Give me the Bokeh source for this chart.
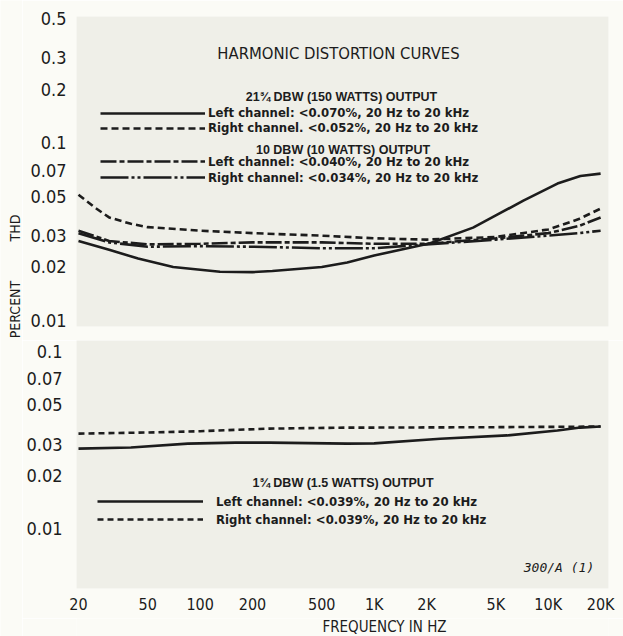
from bokeh.plotting import figure
from bokeh.layouts import column, row
from bokeh.models import FixedTicker, Legend, LegendItem, Label, Range1d
from bokeh.embed import file_html
from bokeh.resources import INLINE
import math

# ---------------- data ----------------
freq_ticks = [20, 50, 100, 200, 500, 1000, 2000, 5000, 10000, 20000]
freq_labels = ["20", "50", "100", "200", "500", "1K", "2K", "5K", "10K", "20K"]

top_ticks = [0.01, 0.02, 0.03, 0.05, 0.07, 0.1, 0.2, 0.3, 0.5]
top_labels = ["0.01", "0.02", "0.03", "0.05", "0.07", "0.1", "0.2", "0.3", "0.5"]
bot_ticks = [0.01, 0.02, 0.03, 0.05, 0.07, 0.1]
bot_labels = ["0.01", "0.02", "0.03", "0.05", "0.07", "0.1"]

# 21 3/4 DBW (150 W)
freq_150L = [20, 30, 44, 70, 130, 200, 260, 500, 700, 1000, 2100, 3700, 5000, 7200, 11300, 15300, 20000]
thd_150L = [0.028, 0.0250, 0.0223, 0.0200, 0.0188, 0.0187, 0.0190, 0.0200, 0.0212, 0.0232,
            0.0272, 0.0333, 0.0390, 0.0472, 0.0589, 0.0650, 0.0670]
freq_150R = [20, 25, 30, 40, 50, 100, 200, 500, 1000, 2000, 5000, 10000, 15000, 20000]
thd_150R = [0.051, 0.043, 0.038, 0.035, 0.0335, 0.032, 0.031, 0.030, 0.029, 0.0285,
            0.0295, 0.0325, 0.0372, 0.0426]

# 10 DBW (10 W)
freq_10 = [20, 30, 50, 100, 200, 500, 1000, 2000, 5000, 10000, 15000, 20000]
thd_10L = [0.032, 0.028, 0.0268, 0.0270, 0.0275, 0.0275, 0.0270, 0.0270, 0.0290, 0.0310, 0.0340, 0.0380]
thd_10R = [0.031, 0.0275, 0.0260, 0.0262, 0.0260, 0.0255, 0.0255, 0.0268, 0.0285, 0.0300, 0.0310, 0.0320]

# 1 3/4 DBW (1.5 W)
freq_1_5L = [20, 40, 85, 160, 250, 700, 1000, 2400, 5800, 11300, 15300, 20000]
thd_1_5L = [0.0283, 0.0287, 0.0302, 0.0306, 0.0306, 0.0302, 0.0303, 0.0322, 0.0336, 0.0358, 0.0372, 0.0377]
freq_1_5R = [20, 50, 100, 250, 700, 1000, 5000, 20000]
thd_1_5R = [0.0344, 0.0349, 0.0355, 0.0367, 0.0372, 0.0372, 0.0374, 0.0377]

# ---------------- style ----------------
NARROW = "'Liberation Sans Narrow', 'DejaVu Sans Condensed', sans-serif"
COND = "'DejaVu Sans Condensed', sans-serif"
SANS = "'Liberation Sans', sans-serif"
INK = "#1c1c1c"
PANEL = "#efefe8"
PAPER = "#fbfbf6"
LW = 2.6
LABW = 22            # left strip holding the rotated axis title
FIG_W = 623 - LABW
BORDER_L = 54

xr = Range1d(19.48, 22200)


def style_y(p, ticks, labels, standoff):
    ax = p.yaxis[0]
    ax.ticker = FixedTicker(ticks=ticks)
    ax.major_label_overrides = {t: l for t, l in zip(ticks, labels)}
    ax.axis_line_color = None
    ax.major_tick_line_color = None
    ax.minor_tick_line_color = None
    ax.major_label_standoff = standoff
    ax.major_label_text_font = NARROW
    ax.major_label_text_font_size = "18px"
    ax.major_label_text_color = INK
    p.grid.grid_line_color = None


def single_legend(p, label, renderer, loc, standoff, gw):
    p.add_layout(Legend(items=[LegendItem(label=label, renderers=[renderer])],
                        location=loc, orientation="vertical",
                        glyph_width=gw, glyph_height=16, label_height=16,
                        label_standoff=standoff, spacing=0, padding=0, margin=0,
                        background_fill_alpha=0, border_line_alpha=0,
                        label_text_font=COND, label_text_font_size="13px",
                        label_text_font_style="bold", label_text_color=INK))


def lab(p, x, y, text, font=NARROW, size="15px", style="normal", angle=0.0):
    p.add_layout(Label(x=x, y=y, x_units="screen", y_units="screen", text=text,
                       text_align="center", text_baseline="middle", angle=angle,
                       text_font=font, text_font_size=size, text_font_style=style,
                       text_color=INK))


def strip(w, h):
    s = figure(width=w, height=h, x_range=Range1d(0, 1), y_range=Range1d(0, 1),
               x_axis_location=None, y_axis_location=None,
               output_backend="svg", toolbar_location=None,
               min_border_left=0, min_border_right=0, min_border_top=0, min_border_bottom=0,
               background_fill_color=PAPER, border_fill_color=PAPER, outline_line_color=None)
    s.grid.grid_line_color = None
    return s


# ---------------- top panel ----------------
top = figure(width=FIG_W, height=340, x_axis_type="log", y_axis_type="log",
             x_range=xr, y_range=Range1d(0.00925, 0.513),
             x_axis_location=None,
             output_backend="svg", toolbar_location=None,
             min_border_left=BORDER_L, min_border_right=15, min_border_top=16, min_border_bottom=14,
             background_fill_color=PANEL, border_fill_color=PAPER, outline_line_color=None)
style_y(top, top_ticks, top_labels, 4)

r150L = top.line(freq_150L, thd_150L, line_color=INK, line_width=LW)
r150R = top.line(freq_150R, thd_150R, line_color=INK, line_width=LW, line_dash="7 4")
r10L = top.line(freq_10, thd_10L, line_color=INK, line_width=LW, line_dash="16 3 5 3")
r10R = top.line(freq_10, thd_10R, line_color=INK, line_width=LW, line_dash="28 3 3 3 3 3")

# legend rows centred at page y = 112.5, 127.5, 161, 177 (frame bottom at 326)
single_legend(top, "Left channel: <0.070%, 20 Hz to 20 kHz", r150L, (24, 205.5), 3, 105)
single_legend(top, "Right channel. <0.052%, 20 Hz to 20 kHz", r150R, (24, 190.5), 3, 105)
single_legend(top, "Left channel: <0.040%, 20 Hz to 20 kHz", r10L, (24, 157), 3, 105)
single_legend(top, "Right channel: <0.034%, 20 Hz to 20 kHz", r10R, (24, 141), 3, 105)

lab(top, 262, 273, "HARMONIC DISTORTION CURVES", size="16.5px")
lab(top, 265, 230, "21\u00be DBW (150 WATTS) OUTPUT", font=SANS, size="12.5px", style="bold")
lab(top, 266.5, 177, "10 DBW (10 WATTS) OUTPUT", font=SANS, size="12.5px", style="bold")

# ---------------- bottom panel ----------------
bot = figure(width=FIG_W, height=278, x_axis_type="log", y_axis_type="log",
             x_range=xr, y_range=Range1d(0.0046, 0.1153),
             output_backend="svg", toolbar_location=None,
             min_border_left=BORDER_L, min_border_right=15, min_border_top=0, min_border_bottom=30,
             background_fill_color=PANEL, border_fill_color=PAPER, outline_line_color=None)
style_y(bot, bot_ticks, bot_labels, 8)
xa = bot.xaxis[0]
xa.ticker = FixedTicker(ticks=freq_ticks)
xa.major_label_overrides = {t: l for t, l in zip(freq_ticks, freq_labels)}
xa.axis_line_color = None
xa.major_tick_line_color = None
xa.minor_tick_line_color = None
xa.major_label_standoff = 0
xa.major_label_text_font = NARROW
xa.major_label_text_font_size = "16px"
xa.major_label_text_color = INK

r15L = bot.line(freq_1_5L, thd_1_5L, line_color=INK, line_width=LW)
r15R = bot.line(freq_1_5R, thd_1_5R, line_color=INK, line_width=LW, line_dash="6 4")
# legend rows centred at page y = 501, 519 (frame bottom at 588)
single_legend(bot, "Left channel: <0.039%, 20 Hz to 20 kHz", r15L, (21, 79), 13, 106)
single_legend(bot, "Right channel: <0.039%, 20 Hz to 20 kHz", r15R, (21, 61), 13, 106)

lab(bot, 266.5, 106, "1\u00be DBW (1.5 WATTS) OUTPUT", font=SANS, size="12.5px", style="bold")
lab(bot, 482.5, 21, "300/A (1)", font="'DejaVu Sans Mono', monospace", size="13px", style="italic")

# ---------------- axis titles ----------------
xtitle = strip(FIG_W, 18)
lab(xtitle, 330 - LABW, 10, "FREQUENCY IN HZ", size="15px")

side = strip(LABW, 636)
lab(side, 14, 636 - 309, "PERCENT", size="14px", angle=math.pi / 2)
lab(side, 14, 636 - 227.5, "THD", size="14px", angle=math.pi / 2)

layout = row(side, column(top, bot, xtitle, spacing=0), spacing=0)
open("out.html", "w").write(file_html(layout, INLINE))
